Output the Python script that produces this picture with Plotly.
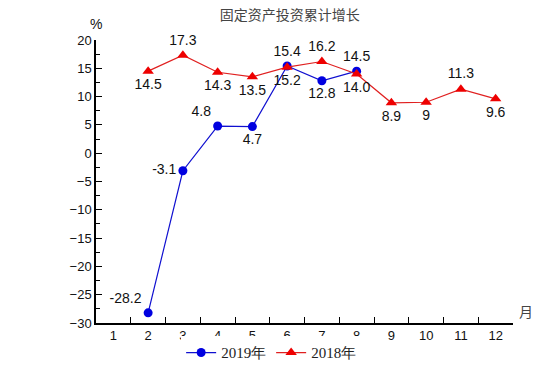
import plotly.graph_objects as go

months = [str(m) for m in range(1, 13)]
y2019 = [None, -28.2, -3.1, 4.8, 4.7, 15.4, 12.8, 14.5, None, None, None, None]
y2018 = [None, 14.5, 17.3, 14.3, 13.5, 15.2, 16.2, 14.0, 8.9, 9, 11.3, 9.6]
lbl2019 = ["", "-28.2", "-3.1", "4.8", "4.7", "15.4", "12.8", "14.5", "", "", "", ""]
lbl2018 = ["", "14.5", "17.3", "14.3", "13.5", "15.2", "16.2", "14.0", "8.9", "9", "11.3", "9.6"]

pos2019 = ["top center", "top left", "middle left", "top left", "bottom center", "top center",
           "bottom center", "top center", "top center", "top center", "top center", "top center"]
pos2018 = ["bottom center", "bottom center", "top center", "bottom center", "bottom center",
           "bottom center", "top center", "bottom center", "bottom center", "bottom center",
           "top center", "bottom center"]

fig = go.Figure()
fig.add_trace(go.Scatter(
    x=months, y=y2019, name="2019年", mode="lines+markers+text",
    line=dict(color="#1010d0", width=1.2),
    marker=dict(symbol="circle", size=9, color="#0000e0"),
    text=lbl2019, textposition=pos2019, cliponaxis=False,
    textfont=dict(family="Liberation Sans, Arial", size=14, color="#111"),
    connectgaps=False,
))
fig.add_trace(go.Scatter(
    x=months, y=y2018, name="2018年", mode="lines+markers+text",
    line=dict(color="#e02020", width=1.2),
    marker=dict(symbol="triangle-up", size=10, color="#ee0000"),
    text=lbl2018, textposition=pos2018, cliponaxis=False,
    textfont=dict(family="Liberation Sans, Arial", size=14, color="#111"),
))

fig.update_layout(
    width=554, height=392,
    margin=dict(l=96, r=41, t=40, b=69, autoexpand=False),
    paper_bgcolor="white", plot_bgcolor="white",
    title=dict(text="固定资产投资累计增长", x=0.523, xanchor="center", y=0.962, yanchor="middle",
               font=dict(family="Noto Sans CJK SC", size=14, color="#444")),
    showlegend=True,
    legend=dict(orientation="h", x=0.42, xanchor="center", yref="container", y=0.10,
                yanchor="middle",
                font=dict(family="Liberation Serif, serif", size=15, color="#222"),
                itemwidth=30, tracegroupgap=0),
    xaxis=dict(type="category", categoryorder="array", categoryarray=months,
               range=[-0.5, 11.5], tickson="boundaries", ticks="inside", ticklen=6,
               tickcolor="black", showline=True, linecolor="black", linewidth=1.5,
               showgrid=False, zeroline=False,
               tickfont=dict(family="Liberation Sans, Arial", size=13, color="#111")),
    yaxis=dict(range=[-30, 20], dtick=5, tick0=0, ticks="inside", ticklen=6,
               tickcolor="black", showline=True, linecolor="black", linewidth=1.5,
               showgrid=False, zeroline=False,
               minor=dict(dtick=2.5, ticks="inside", ticklen=4, tickcolor="black"),
               tickfont=dict(family="Liberation Sans, Arial", size=13, color="#111")),
    annotations=[
        dict(text="%", xref="paper", yref="paper", x=0.0, y=1.0, yshift=6, xanchor="center",
             yanchor="bottom", showarrow=False,
             font=dict(family="Liberation Sans, Arial", size=14, color="#111")),
        dict(text="月", xref="paper", yref="paper", x=1.0, y=0.0, xshift=4, xanchor="left",
             yanchor="bottom", showarrow=False,
             font=dict(family="Noto Sans CJK SC", size=14, color="#444")),
    ],
)

fig.write_html("out.html", config={"displayModeBar": False},
               post_script="document.body.style.margin='0';")
